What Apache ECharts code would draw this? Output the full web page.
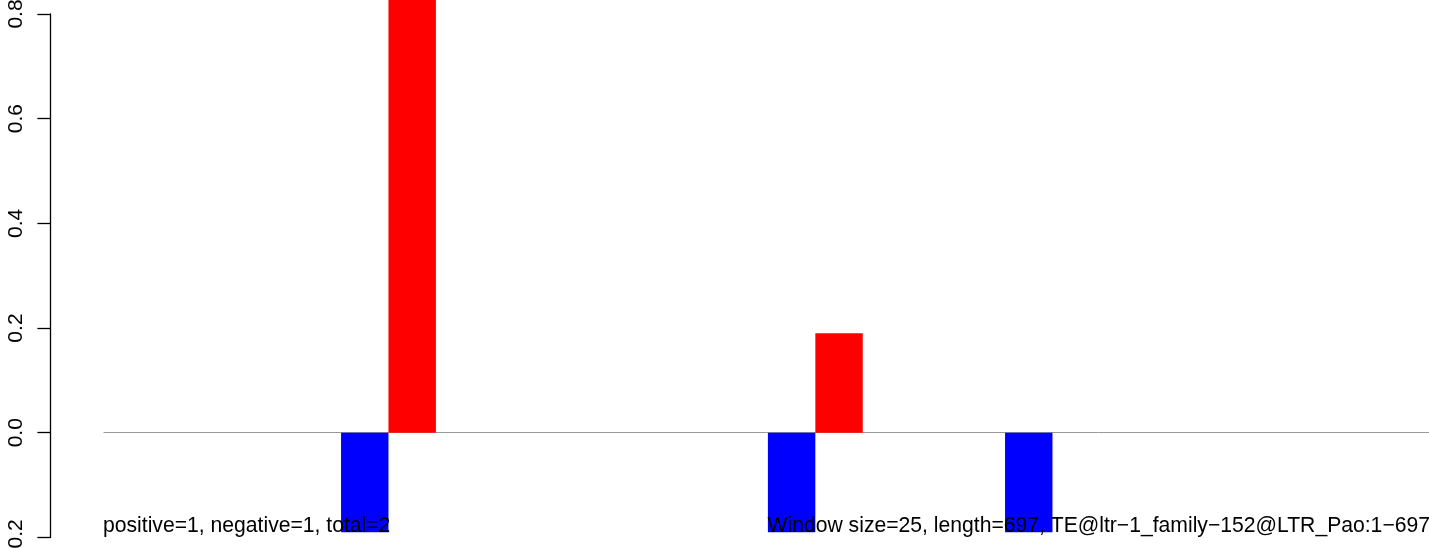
<!DOCTYPE html>
<html>
<head>
<meta charset="utf-8">
<script src="https://cdn.jsdelivr.net/npm/echarts@6/dist/echarts.min.js"></script>
<style>
html,body{margin:0;padding:0;background:#fff;}
#chart{width:1429px;height:548px;}
</style>
</head>
<body>
<div id="chart"></div>
<script>
// Window index (28 windows of size 25 over length 697)
const windows = [1,2,3,4,5,6,7,8,9,10,11,12,13,14,15,16,17,18,19,20,21,22,23,24,25,26,27,28];
// Positive (red) values per window
const positiveValues = [null,null,null,null,null,null,0.95,null,null,null,null,null,null,null,null,0.19,null,null,null,null,null,null,null,null,null,null,null,null];
// Negative (blue) values per window
const negativeValues = [null,null,null,null,null,-0.19,null,null,null,null,null,null,null,null,-0.19,null,null,null,null,-0.19,null,null,null,null,null,null,null,null];
const yTicks = [-0.2, 0.0, 0.2, 0.4, 0.6, 0.8];
const leftNote = 'positive=1, negative=1, total=2';
const rightNote = 'Window size=25, length=697, TE@ltr\u22121_family\u2212152@LTR_Pao:1\u2212697';

const FONT = '"Liberation Sans", Arial, Helvetica, sans-serif';
const chart = echarts.init(document.getElementById('chart'), null, {renderer: 'canvas'});
chart.setOption({
  backgroundColor: '#ffffff',
  animation: false,
  grid: {left: 103.9, top: 14, width: 1328, height: 523.4, containLabel: false, outerBoundsMode: 'none'},
  xAxis: {
    type: 'category',
    data: windows,
    axisLine: {show: true, onZero: true, lineStyle: {color: '#999999', width: 1}},
    axisTick: {show: false},
    axisLabel: {show: false},
    splitLine: {show: false}
  },
  yAxis: {
    type: 'value',
    min: yTicks[0],
    max: yTicks[yTicks.length - 1],
    interval: 0.2,
    offset: 53.5,
    axisLine: {show: true, lineStyle: {color: '#000', width: 1.3}},
    axisTick: {show: true, length: 13, lineStyle: {color: '#000', width: 1.3}},
    axisLabel: {
      show: true, rotate: 90, margin: 24, color: '#000',
      fontFamily: FONT, fontSize: 21,
      formatter: v => v.toFixed(1)
    },
    splitLine: {show: false}
  },
  series: [
    {
      type: 'bar', name: 'negative', stack: 'w', data: negativeValues,
      barWidth: '100%', barCategoryGap: 0, barGap: 0, clip: false,
      itemStyle: {color: '#0000ff'}
    },
    {
      type: 'bar', name: 'positive', stack: 'w', data: positiveValues,
      barWidth: '100%', barCategoryGap: 0, barGap: 0, clip: false,
      itemStyle: {color: '#ff0000'}
    }
  ],
  graphic: [
    {type: 'text', left: 103, top: 515.5, z: 100,
     style: {text: leftNote, font: '21.15px ' + FONT, fill: '#000'}},
    {type: 'text', right: -1, top: 515.5, z: 100,
     style: {text: rightNote, font: '21.15px ' + FONT, fill: '#000'}}
  ]
});
</script>
</body>
</html>
